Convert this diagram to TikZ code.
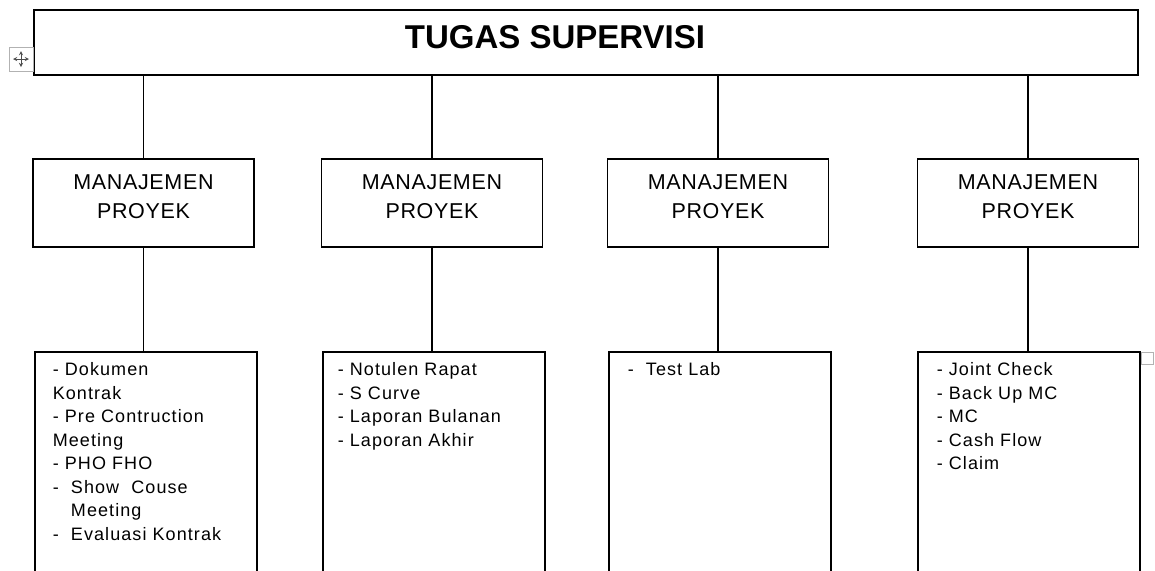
\documentclass[tikz,border=0pt]{standalone}
\usepackage{fontspec}
\setmainfont{Liberation Sans}
\newfontfamily\isifont[LetterSpace=6]{Liberation Sans}
\newfontfamily\mpfont[LetterSpace=3]{Liberation Sans}
\usetikzlibrary{positioning}

\newlength\unitL
\setlength\unitL{1pt}

\begin{document}
\begin{tikzpicture}[x=\unitL, y=-\unitL, >=stealth, line width=1.6pt,
  judul/.style={font=\bfseries\fontsize{33}{33}\selectfont},
  mpbox/.style={draw, minimum width=221\unitL, minimum height=88\unitL, inner sep=0pt,
                align=center, font=\mpfont\fontsize{21.5}{29}\selectfont},
  isibox/.style={draw, anchor=north west, minimum width=222\unitL, minimum height=226\unitL},
  isi/.style={align=left, inner sep=0pt, font=\isifont\fontsize{18}{23.5}\selectfont}]

  \useasboundingbox (0,0) rectangle (1155,570);

  % === Top box ===
  \node[draw, minimum width=1104\unitL, minimum height=65\unitL, inner sep=0pt] (tugas) at (586,42.5) {};
  \node[judul] (judul) at (555,37) {TUGAS SUPERVISI};

  % === Move handle (left) and small square (right) ===
  \draw[gray!60, line width=1pt] (9,47) rectangle (33,71);
  \draw[black!70, line width=0.9pt, <->] (13,59) -- (29,59);
  \draw[black!70, line width=0.9pt, <->] (21,51) -- (21,67);
  \draw[gray!60, line width=1pt] (1141,352) rectangle (1153,364);

  % === Four columns ===
  \foreach \i/\xm/\xb in {1/143.5/34, 2/432/322, 3/718/608, 4/1028/917} {
    \node[mpbox] (mp\i) at (\xm,203) {MANAJEMEN\\PROYEK\rule[-13pt]{0pt}{13pt}};
    \node[isibox] (isi\i) at (\xb,351) {};
    \draw (tugas.south -| mp\i.north) -- (mp\i.north);
    \draw (mp\i.south) -- (mp\i.south |- isi\i.north);
  }

  % === Lists ===
  \node[isi, below right=11pt and 18pt of isi1.north west] (daftar1)
    {- Dokumen\\Kontrak\\- Pre Contruction\\Meeting\\- PHO FHO\\-\ \ Show\ \ Couse\\\phantom{-\ \ }Meeting\\-\ \ Evaluasi Kontrak};
  \node[isi, below right=11pt and 15pt of isi2.north west] (daftar2)
    {- Notulen Rapat\\- S Curve\\- Laporan Bulanan\\- Laporan Akhir};
  \node[isi, below right=11pt and 19pt of isi3.north west] (daftar3)
    {-\ \ Test Lab};
  \node[isi, below right=11pt and 19pt of isi4.north west] (daftar4)
    {- Joint Check\\- Back Up MC\\- MC\\- Cash Flow\\- Claim};

\end{tikzpicture}
\end{document}
